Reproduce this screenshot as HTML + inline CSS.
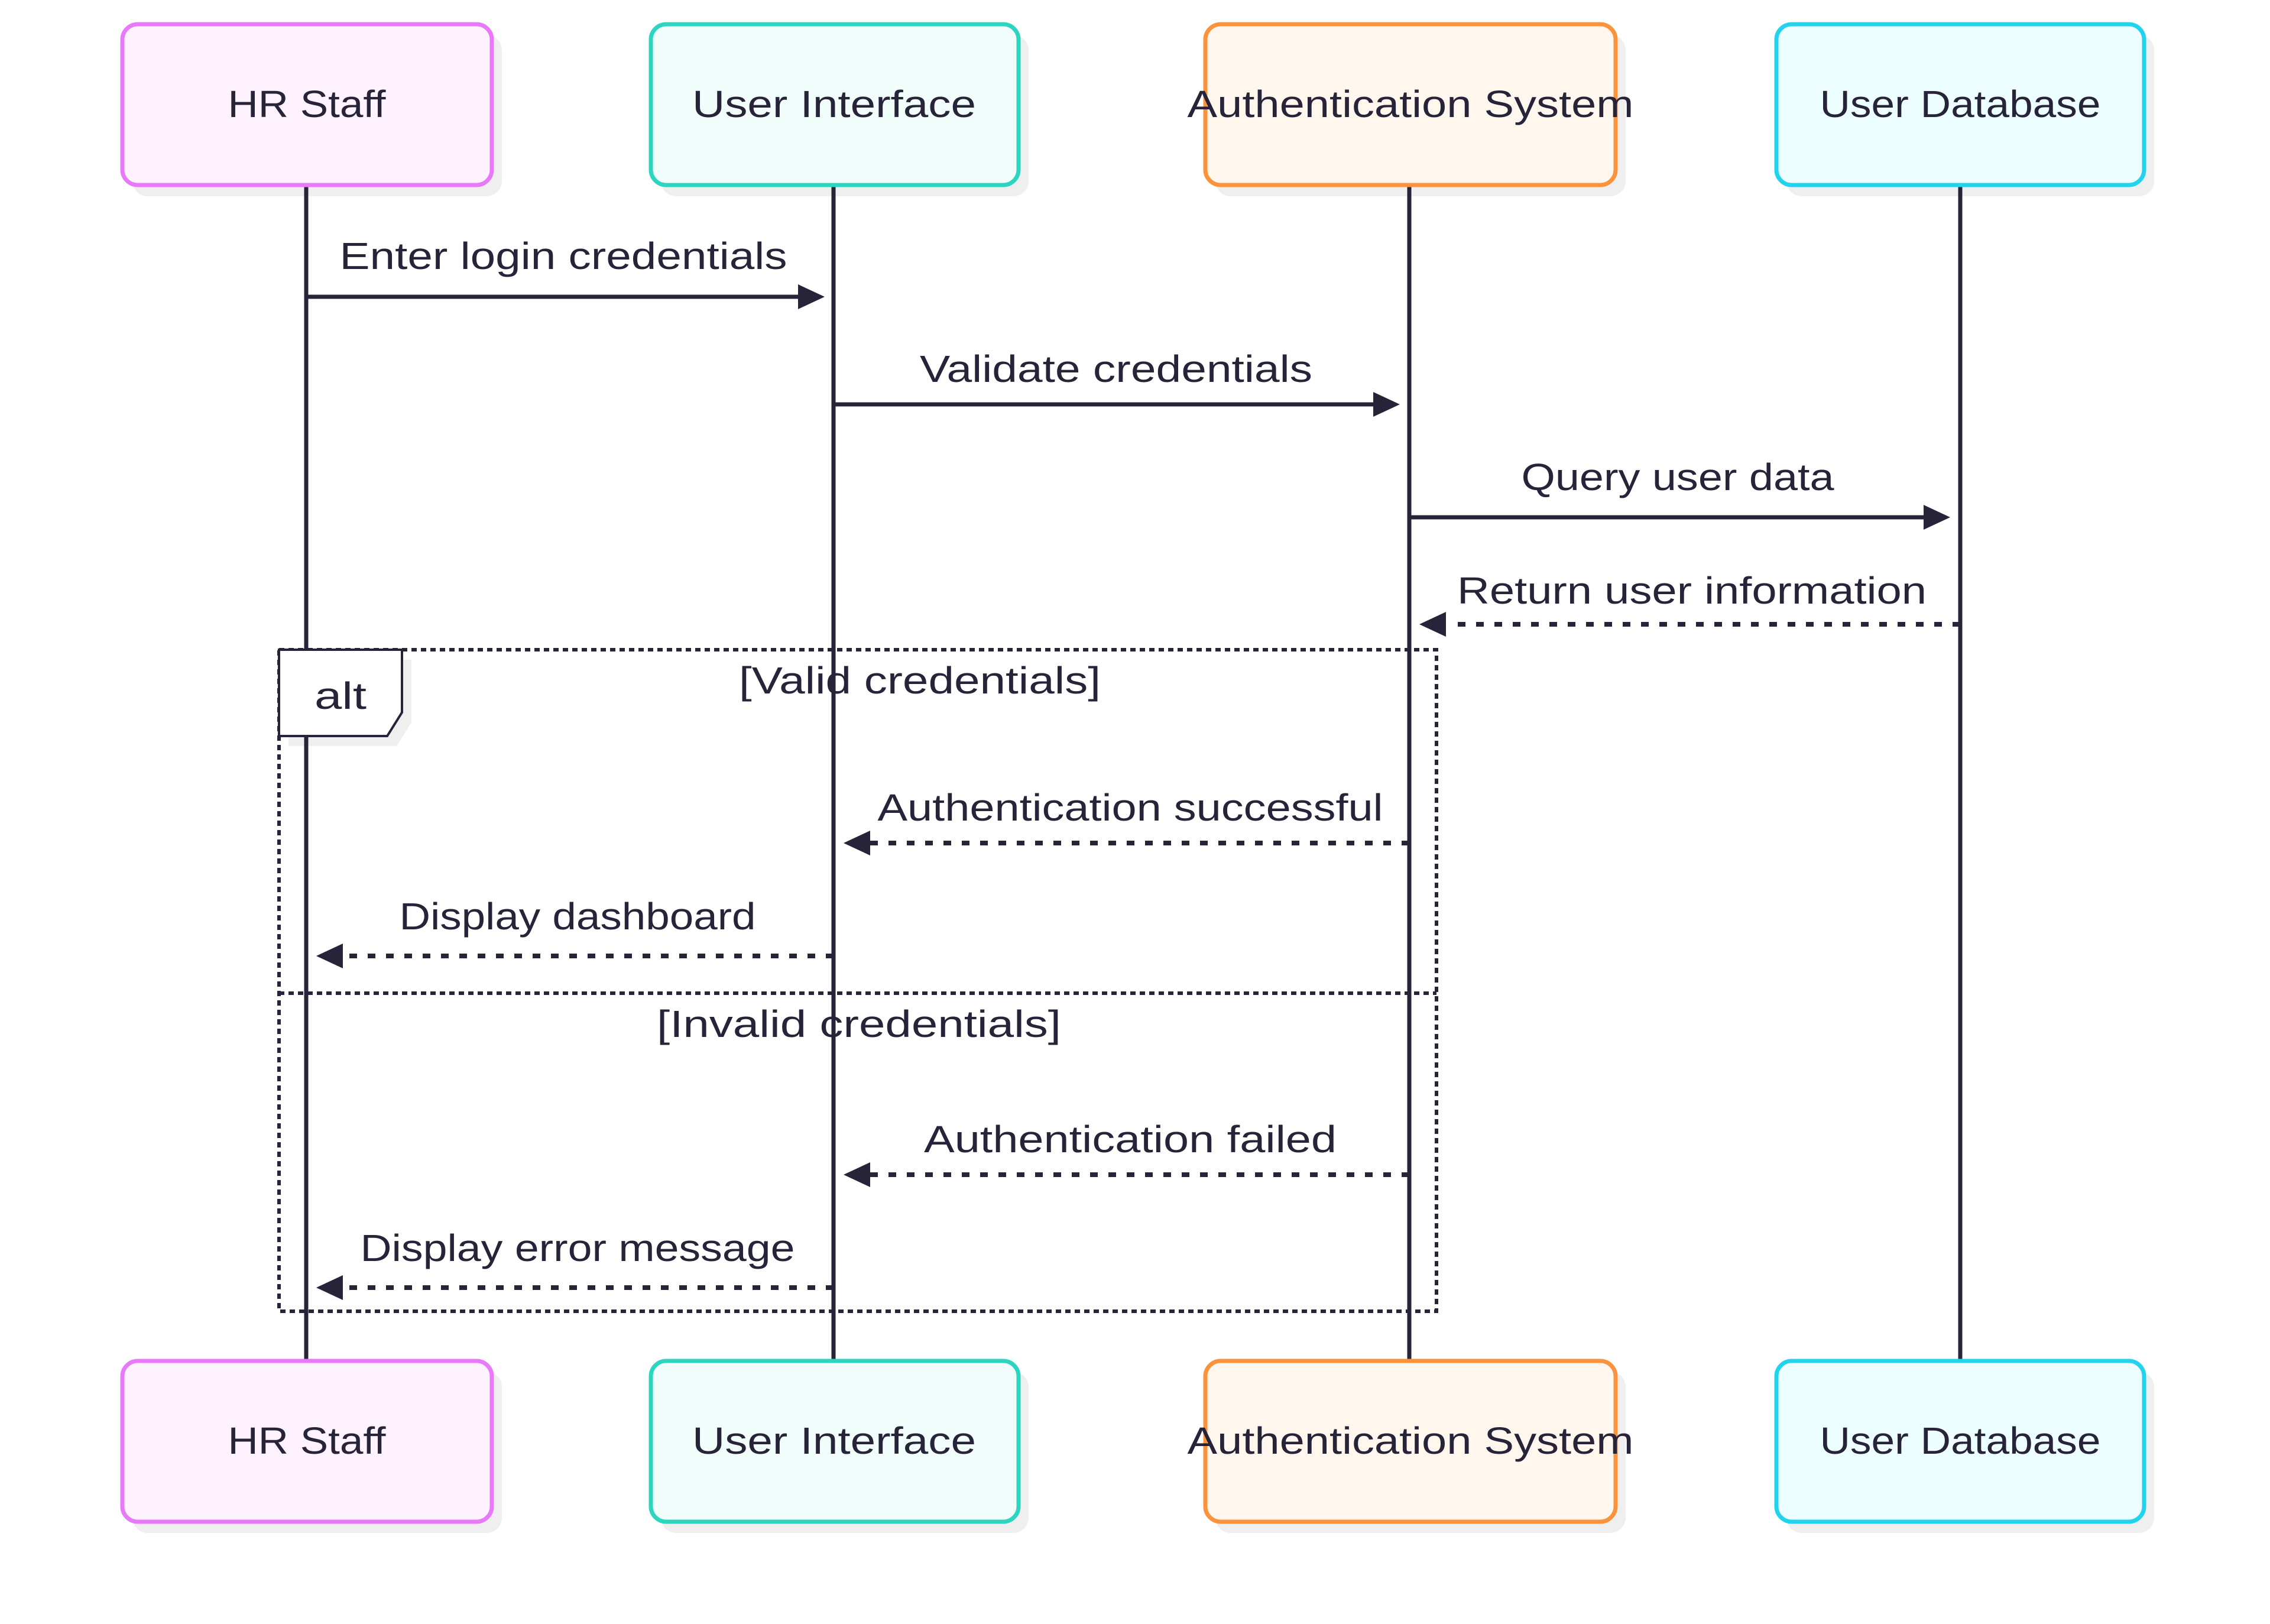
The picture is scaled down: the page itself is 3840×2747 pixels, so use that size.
<!DOCTYPE html>
<html><head><meta charset="utf-8"><style>
html,body{margin:0;padding:0;background:#fff;}
svg{display:block;}
text{font-family:"Liberation Sans",sans-serif;fill:#27243a;}
</style></head><body>
<svg width="3840" height="2747" viewBox="0 0 3840 2747" xmlns="http://www.w3.org/2000/svg">
<rect width="3840" height="2747" fill="#fff"/>
<!-- shadows -->
<g fill="#efefef">
<rect x="224" y="59" width="625" height="273" rx="26"/>
<rect x="1118" y="59" width="622" height="273" rx="26"/>
<rect x="2056" y="59" width="694" height="273" rx="26"/>
<rect x="3022" y="59" width="622" height="273" rx="26"/>
<rect x="224" y="2320" width="625" height="273" rx="26"/>
<rect x="1118" y="2320" width="622" height="273" rx="26"/>
<rect x="2056" y="2320" width="694" height="273" rx="26"/>
<rect x="3022" y="2320" width="622" height="273" rx="26"/>
<polygon points="488,1116 696,1116 696,1222 671,1262 488,1262"/>
</g>
<!-- lifelines -->
<g stroke="#27243a" stroke-width="7">
<line x1="518" y1="313" x2="518" y2="2304"/>
<line x1="1410" y1="313" x2="1410" y2="2304"/>
<line x1="2384" y1="313" x2="2384" y2="2304"/>
<line x1="3316" y1="313" x2="3316" y2="2304"/>
</g>
<g>
<rect x="207" y="41" width="625" height="272" rx="26" fill="#FDF2FD" stroke="#E879F9" stroke-width="7"/>
<rect x="1101" y="41" width="622" height="272" rx="26" fill="#F0FDFA" stroke="#2DD4BF" stroke-width="7"/>
<rect x="2039" y="41" width="694" height="272" rx="26" fill="#FFF7ED" stroke="#FB923C" stroke-width="7"/>
<rect x="3005" y="41" width="622" height="272" rx="26" fill="#ECFEFF" stroke="#22D3EE" stroke-width="7"/>
<rect x="207" y="2302" width="625" height="272" rx="26" fill="#FDF2FD" stroke="#E879F9" stroke-width="7"/>
<rect x="1101" y="2302" width="622" height="272" rx="26" fill="#F0FDFA" stroke="#2DD4BF" stroke-width="7"/>
<rect x="2039" y="2302" width="694" height="272" rx="26" fill="#FFF7ED" stroke="#FB923C" stroke-width="7"/>
<rect x="3005" y="2302" width="622" height="272" rx="26" fill="#ECFEFF" stroke="#22D3EE" stroke-width="7"/>
</g>
<g font-size="64" text-anchor="middle">
<text x="519" y="198" textLength="267" lengthAdjust="spacingAndGlyphs">HR Staff</text>
<text x="1411" y="198" textLength="480" lengthAdjust="spacingAndGlyphs">User Interface</text>
<text x="2386" y="198" textLength="755" lengthAdjust="spacingAndGlyphs">Authentication System</text>
<text x="3316" y="198" textLength="475" lengthAdjust="spacingAndGlyphs">User Database</text>
<text x="519" y="2459" textLength="267" lengthAdjust="spacingAndGlyphs">HR Staff</text>
<text x="1411" y="2459" textLength="480" lengthAdjust="spacingAndGlyphs">User Interface</text>
<text x="2386" y="2459" textLength="755" lengthAdjust="spacingAndGlyphs">Authentication System</text>
<text x="3316" y="2459" textLength="475" lengthAdjust="spacingAndGlyphs">User Database</text>
</g>
<!-- alt frame -->
<g fill="none" stroke="#27243a" stroke-width="6" stroke-dasharray="9,7">
<rect x="472" y="1099" width="1958" height="1119"/>
<line x1="472" y1="1680" x2="2430" y2="1680"/>
</g>
<polygon points="472,1099 680,1099 680,1205 655,1245 472,1245" fill="#fff" stroke="#27243a" stroke-width="4"/>
<g font-size="64" text-anchor="middle">
<text x="576" y="1199" textLength="88" lengthAdjust="spacingAndGlyphs">alt</text>
<text x="1556" y="1173" textLength="612" lengthAdjust="spacingAndGlyphs">[Valid credentials]</text>
<text x="1453" y="1754" textLength="684" lengthAdjust="spacingAndGlyphs">[Invalid credentials]</text>
</g>
<!-- messages -->
<g stroke="#27243a" stroke-width="7" fill="none">
<line x1="518" y1="502" x2="1352" y2="502"/>
<line x1="1410" y1="684" x2="2325" y2="684"/>
<line x1="2384" y1="875" x2="3256" y2="875"/>
</g>
<g stroke="#27243a" stroke-width="8" fill="none" stroke-dasharray="13,18">
<line x1="3316" y1="1056" x2="2448" y2="1056"/>
<line x1="2384" y1="1426" x2="1472" y2="1426"/>
<line x1="1410" y1="1617" x2="580" y2="1617"/>
<line x1="2384" y1="1987" x2="1472" y2="1987"/>
<line x1="1410" y1="2178" x2="580" y2="2178"/>
</g>
<g fill="#27243a">
<polygon points="1350,481 1395,502 1350,523"/>
<polygon points="2323,663 2368,684 2323,705"/>
<polygon points="3254,854 3299,875 3254,896"/>
<polygon points="2446,1035 2401,1056 2446,1077"/>
<polygon points="1472,1405 1427,1426 1472,1447"/>
<polygon points="580,1596 535,1617 580,1638"/>
<polygon points="1472,1966 1427,1987 1472,2008"/>
<polygon points="580,2157 535,2178 580,2199"/>
</g>
<g font-size="64" text-anchor="middle">
<text x="953" y="455" textLength="757" lengthAdjust="spacingAndGlyphs">Enter login credentials</text>
<text x="1888" y="646" textLength="664" lengthAdjust="spacingAndGlyphs">Validate credentials</text>
<text x="2838" y="829" textLength="529" lengthAdjust="spacingAndGlyphs">Query user data</text>
<text x="2862" y="1021" textLength="794" lengthAdjust="spacingAndGlyphs">Return user information</text>
<text x="1912" y="1388" textLength="855" lengthAdjust="spacingAndGlyphs">Authentication successful</text>
<text x="977" y="1572" textLength="603" lengthAdjust="spacingAndGlyphs">Display dashboard</text>
<text x="1912" y="1949" textLength="698" lengthAdjust="spacingAndGlyphs">Authentication failed</text>
<text x="977" y="2133" textLength="735" lengthAdjust="spacingAndGlyphs">Display error message</text>
</g>
</svg>
</body></html>
